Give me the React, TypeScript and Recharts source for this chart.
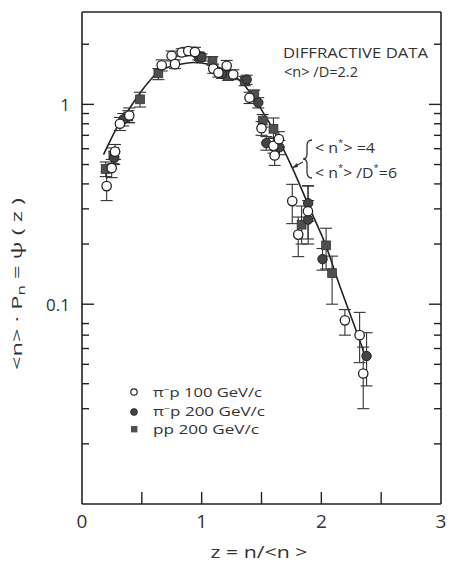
import React from 'react';
import { ComposedChart, XAxis, YAxis, Scatter, Line, ErrorBar } from 'recharts';

// ---- data ----
// pi- p 100 GeV/c (open circles)
const openZ = [0.206, 0.248, 0.276, 0.317, 0.395, 0.666, 0.749, 0.777, 0.833, 0.888, 0.944, 1.097, 1.14, 1.209, 1.264, 1.40, 1.50, 1.60, 1.645, 1.61, 1.757, 1.807, 1.888, 2.197, 2.32, 2.35];
const openY = [0.39, 0.48, 0.58, 0.80, 0.88, 1.57, 1.75, 1.59, 1.82, 1.85, 1.83, 1.51, 1.44, 1.56, 1.41, 1.08, 0.76, 0.62, 0.67, 0.555, 0.328, 0.223, 0.292, 0.083, 0.070, 0.045];
const openLo = [0.06, 0.05, 0.05, 0.06, 0.07, 0.10, 0.10, 0.08, 0.08, 0.08, 0.08, 0.08, 0.07, 0.08, 0.08, 0.07, 0.06, 0.05, 0.06, 0.06, 0.075, 0.05, 0.08, 0.013, 0.019, 0.015];
const openHi = [0.07, 0.05, 0.05, 0.06, 0.08, 0.10, 0.10, 0.08, 0.08, 0.08, 0.10, 0.08, 0.07, 0.10, 0.08, 0.07, 0.06, 0.06, 0.06, 0.06, 0.07, 0.05, 0.10, 0.011, 0.021, 0.016];

// pi- p 200 GeV/c (filled circles)
const fcZ = [0.27, 0.345, 0.972, 1.0, 1.17, 1.376, 1.473, 1.54, 1.65, 1.89, 1.89, 2.01, 2.378];
const fcY = [0.54, 0.84, 1.75, 1.72, 1.42, 1.33, 1.02, 0.64, 0.61, 0.32, 0.265, 0.168, 0.055];
const fcLo = [0.04, 0.06, 0.08, 0.07, 0.07, 0.07, 0.06, 0.05, 0.05, 0.06, 0.065, 0.02, 0.016];
const fcHi = [0.04, 0.06, 0.08, 0.07, 0.07, 0.07, 0.06, 0.05, 0.05, 0.07, 0.065, 0.022, 0.017];

// pp 200 GeV/c (filled squares)
const sqZ = [0.198, 0.262, 0.387, 0.485, 0.638, 0.986, 1.09, 1.22, 1.36, 1.44, 1.51, 1.60, 1.835, 2.04, 2.09];
const sqY = [0.475, 0.555, 0.87, 1.06, 1.43, 1.73, 1.65, 1.39, 1.31, 1.12, 0.83, 0.755, 0.25, 0.197, 0.143];
const sqLo = [0.04, 0.05, 0.06, 0.09, 0.10, 0.07, 0.08, 0.07, 0.07, 0.06, 0.06, 0.08, 0.05, 0.047, 0.043];
const sqHi = [0.04, 0.05, 0.06, 0.09, 0.08, 0.07, 0.08, 0.07, 0.07, 0.06, 0.06, 0.10, 0.06, 0.043, 0.031];

// fitted curve
const curveZ = [0.18, 0.234, 0.30, 0.40, 0.485, 0.65, 0.79, 0.93, 1.07, 1.21, 1.35, 1.49, 1.63, 1.765, 1.905, 2.04, 2.155, 2.21, 2.34, 2.37];
const curveY = [0.56, 0.655, 0.78, 0.96, 1.14, 1.47, 1.57, 1.62, 1.585, 1.47, 1.26, 0.96, 0.69, 0.47, 0.30, 0.195, 0.123, 0.10, 0.061, 0.054];

// axes
const xTicks = [0, 0.5, 1, 1.5, 2, 2.5, 3];
const xLabels = [0, 1, 2, 3];
const yTicks = [0.02, 0.03, 0.04, 0.05, 0.06, 0.07, 0.08, 0.1, 0.2, 0.3, 0.4, 0.5, 0.6, 0.7, 0.8, 0.9, 1, 2];
const yMajor = [0.1, 1];
const yLabels = [0.1, 1];

const rows = (z: number[], y: number[], lo: number[], hi: number[]) =>
  z.map((v, i) => ({ z: v, y: y[i], err: [lo[i], hi[i]] }));
const openData = rows(openZ, openY, openLo, openHi);
const fcData = rows(fcZ, fcY, fcLo, fcHi);
const sqData = rows(sqZ, sqY, sqLo, sqHi);
const curveData = curveZ.map((v, i) => ({ z: v, y: curveY[i] }));

const W = 465;
const H = 556;
const FONT = '"Open Sans", "DejaVu Sans", sans-serif';
const INK = '#222';

const XTickBottom = (p: any) => {
  const { x, y, payload } = p;
  const v = payload.value;
  return (
    <g>
      {v > 0 && v < 3 && <line x1={x} x2={x} y1={y} y2={y - 12} stroke={INK} strokeWidth={1.4} />}
      {xLabels.includes(v) && (
        <text x={x} y={y + 24} textAnchor="middle" fontSize={19} fontFamily={FONT} fill="#333">
          {v}
        </text>
      )}
    </g>
  );
};
const XTickTop = (p: any) => {
  const { x, y, payload } = p;
  const v = payload.value;
  if (v <= 0 || v >= 3) return <g />;
  return <line x1={x} x2={x} y1={y} y2={y + 12} stroke={INK} strokeWidth={1.4} />;
};
const YTickLeft = (p: any) => {
  const { x, y, payload } = p;
  const v = payload.value;
  const len = yMajor.includes(v) ? 12 : 7;
  return (
    <g>
      <line x1={x} x2={x + len} y1={y} y2={y} stroke={INK} strokeWidth={1.4} />
      {yLabels.includes(v) && (
        <text x={x - 12} y={y + 7} textAnchor="end" fontSize={17} fontFamily={FONT} fill="#333">
          {v}
        </text>
      )}
    </g>
  );
};
const YTickRight = (p: any) => {
  const { x, y, payload } = p;
  const v = payload.value;
  const len = yMajor.includes(v) ? 12 : 7;
  return <line x1={x} x2={x - len} y1={y} y2={y} stroke={INK} strokeWidth={1.4} />;
};

const OpenDot = (p: any) => <circle cx={p.cx} cy={p.cy} r={4.7} fill="#fff" stroke={INK} strokeWidth={1.3} />;
const FilledDot = (p: any) => <circle cx={p.cx} cy={p.cy} r={4.7} fill="#444" stroke={INK} strokeWidth={1} />;
const SquareDot = (p: any) => (
  <rect x={p.cx - 4.4} y={p.cy - 4.4} width={8.8} height={8.8} fill="#4f4f4f" stroke="#333" strokeWidth={0.8} />
);

const axisLine = { stroke: INK, strokeWidth: 1.6 };

export default function App() {
  return (
    <div style={{ position: 'relative', width: W, height: H }}>
      <ComposedChart width={W} height={H} margin={{ top: 3, right: 31, bottom: 59, left: 73 }}>
        <XAxis
          xAxisId="b"
          dataKey="z"
          type="number"
          domain={[0, 3]}
          allowDataOverflow
          ticks={xTicks}
          interval={0}
          tick={<XTickBottom />}
          tickLine={false}
          tickSize={0}
          tickMargin={0}
          height={1}
          axisLine={axisLine}
        />
        <XAxis
          xAxisId="t"
          orientation="top"
          type="number"
          domain={[0, 3]}
          allowDataOverflow
          ticks={xTicks}
          interval={0}
          tick={<XTickTop />}
          tickLine={false}
          tickSize={0}
          tickMargin={0}
          height={1}
          axisLine={axisLine}
        />
        <YAxis
          yAxisId="l"
          dataKey="y"
          type="number"
          scale="log"
          domain={[0.01, 2.9]}
          allowDataOverflow
          ticks={yTicks}
          interval={0}
          tick={<YTickLeft />}
          tickLine={false}
          tickSize={0}
          tickMargin={0}
          width={1}
          axisLine={axisLine}
        />
        <YAxis
          yAxisId="r"
          orientation="right"
          type="number"
          scale="log"
          domain={[0.01, 2.9]}
          allowDataOverflow
          ticks={yTicks}
          interval={0}
          tick={<YTickRight />}
          tickLine={false}
          tickSize={0}
          tickMargin={0}
          width={1}
          axisLine={axisLine}
        />
        <Line
          xAxisId="b"
          yAxisId="l"
          data={curveData}
          dataKey="y"
          type="monotone"
          stroke={INK}
          strokeWidth={1.6}
          dot={false}
          activeDot={false}
          isAnimationActive={false}
        />
        <Scatter xAxisId="b" yAxisId="l" data={sqData} dataKey="y" shape={<SquareDot />} isAnimationActive={false}>
          <ErrorBar dataKey="err" direction="y" width={6} stroke="#333" strokeWidth={1.1} />
        </Scatter>
        <Scatter xAxisId="b" yAxisId="l" data={fcData} dataKey="y" shape={<FilledDot />} isAnimationActive={false}>
          <ErrorBar dataKey="err" direction="y" width={6} stroke="#333" strokeWidth={1.1} />
        </Scatter>
        <Scatter xAxisId="b" yAxisId="l" data={openData} dataKey="y" shape={<OpenDot />} isAnimationActive={false}>
          <ErrorBar dataKey="err" direction="y" width={6} stroke="#333" strokeWidth={1.1} />
        </Scatter>
      </ComposedChart>
      <svg
        width={W}
        height={H}
        style={{ position: 'absolute', left: 0, top: 0, pointerEvents: 'none' }}
        fontFamily={FONT}
      >
        {/* axis titles */}
        <text x={251} y={550} textAnchor="middle" fontSize={17} fill="#333" textLength={97} lengthAdjust="spacingAndGlyphs">
          z = n/&lt;n &gt;
        </text>
        <text
          transform="translate(14,276) rotate(-90)"
          x={0}
          y={0}
          textAnchor="middle"
          fontSize={14}
          fill="#333"
          textLength={172}
          lengthAdjust="spacingAndGlyphs"
        >
          &lt;n&gt; · P<tspan fontSize={10} dy={3}>n</tspan>
          <tspan dy={-3}> = ψ ( z )</tspan>
        </text>

        {/* annotations */}
        <text x={275} y={50} fontSize={15} fill="#333" textLength={145} lengthAdjust="spacingAndGlyphs">
          DIFFRACTIVE DATA
        </text>
        <text x={276} y={69} fontSize={15} fill="#333" textLength={74} lengthAdjust="spacingAndGlyphs">
          &lt;n&gt; /D=2.2
        </text>
        <path
          d="M304 132 Q299 132 299 138 L299 146 Q299 151 295 151 Q299 151 299 156 L299 164 Q299 170 304 170"
          fill="none"
          stroke="#333"
          strokeWidth={1.3}
        />
        <line x1={295} y1={154} x2={284} y2={160} stroke="#333" strokeWidth={1.1} />
        <path d="M284 160 L289 155 L290 159 Z" fill="#333" />
        <text x={307} y={145} fontSize={15} fill="#333" textLength={60} lengthAdjust="spacingAndGlyphs">
          &lt; n<tspan fontSize={9} dy={-7}>*</tspan>
          <tspan dy={7}>&gt; =4</tspan>
        </text>
        <text x={307} y={170} fontSize={15} fill="#333" textLength={82} lengthAdjust="spacingAndGlyphs">
          &lt; n<tspan fontSize={9} dy={-7}>*</tspan>
          <tspan dy={7}>&gt; /D</tspan>
          <tspan fontSize={9} dy={-7}>*</tspan>
          <tspan dy={7}>=6</tspan>
        </text>

        {/* legend */}
        <circle cx={126} cy={384} r={3.2} fill="#fff" stroke={INK} strokeWidth={1.2} />
        <text x={145} y={389} fontSize={13} fill="#333" textLength={109} lengthAdjust="spacingAndGlyphs">
          π<tspan fontSize={8} dy={-5}>−</tspan>
          <tspan dy={5}>p  100 GeV/c</tspan>
        </text>
        <circle cx={126} cy={404} r={3.4} fill="#444" stroke={INK} strokeWidth={0.8} />
        <text x={145} y={408} fontSize={13} fill="#333" textLength={112} lengthAdjust="spacingAndGlyphs">
          π<tspan fontSize={8} dy={-5}>−</tspan>
          <tspan dy={5}>p  200 GeV/c</tspan>
        </text>
        <rect x={123} y={418} width={6.4} height={6.4} fill="#4f4f4f" />
        <text x={145} y={426} fontSize={13} fill="#333" textLength={106} lengthAdjust="spacingAndGlyphs">
          pp  200 GeV/c
        </text>
      </svg>
    </div>
  );
}
